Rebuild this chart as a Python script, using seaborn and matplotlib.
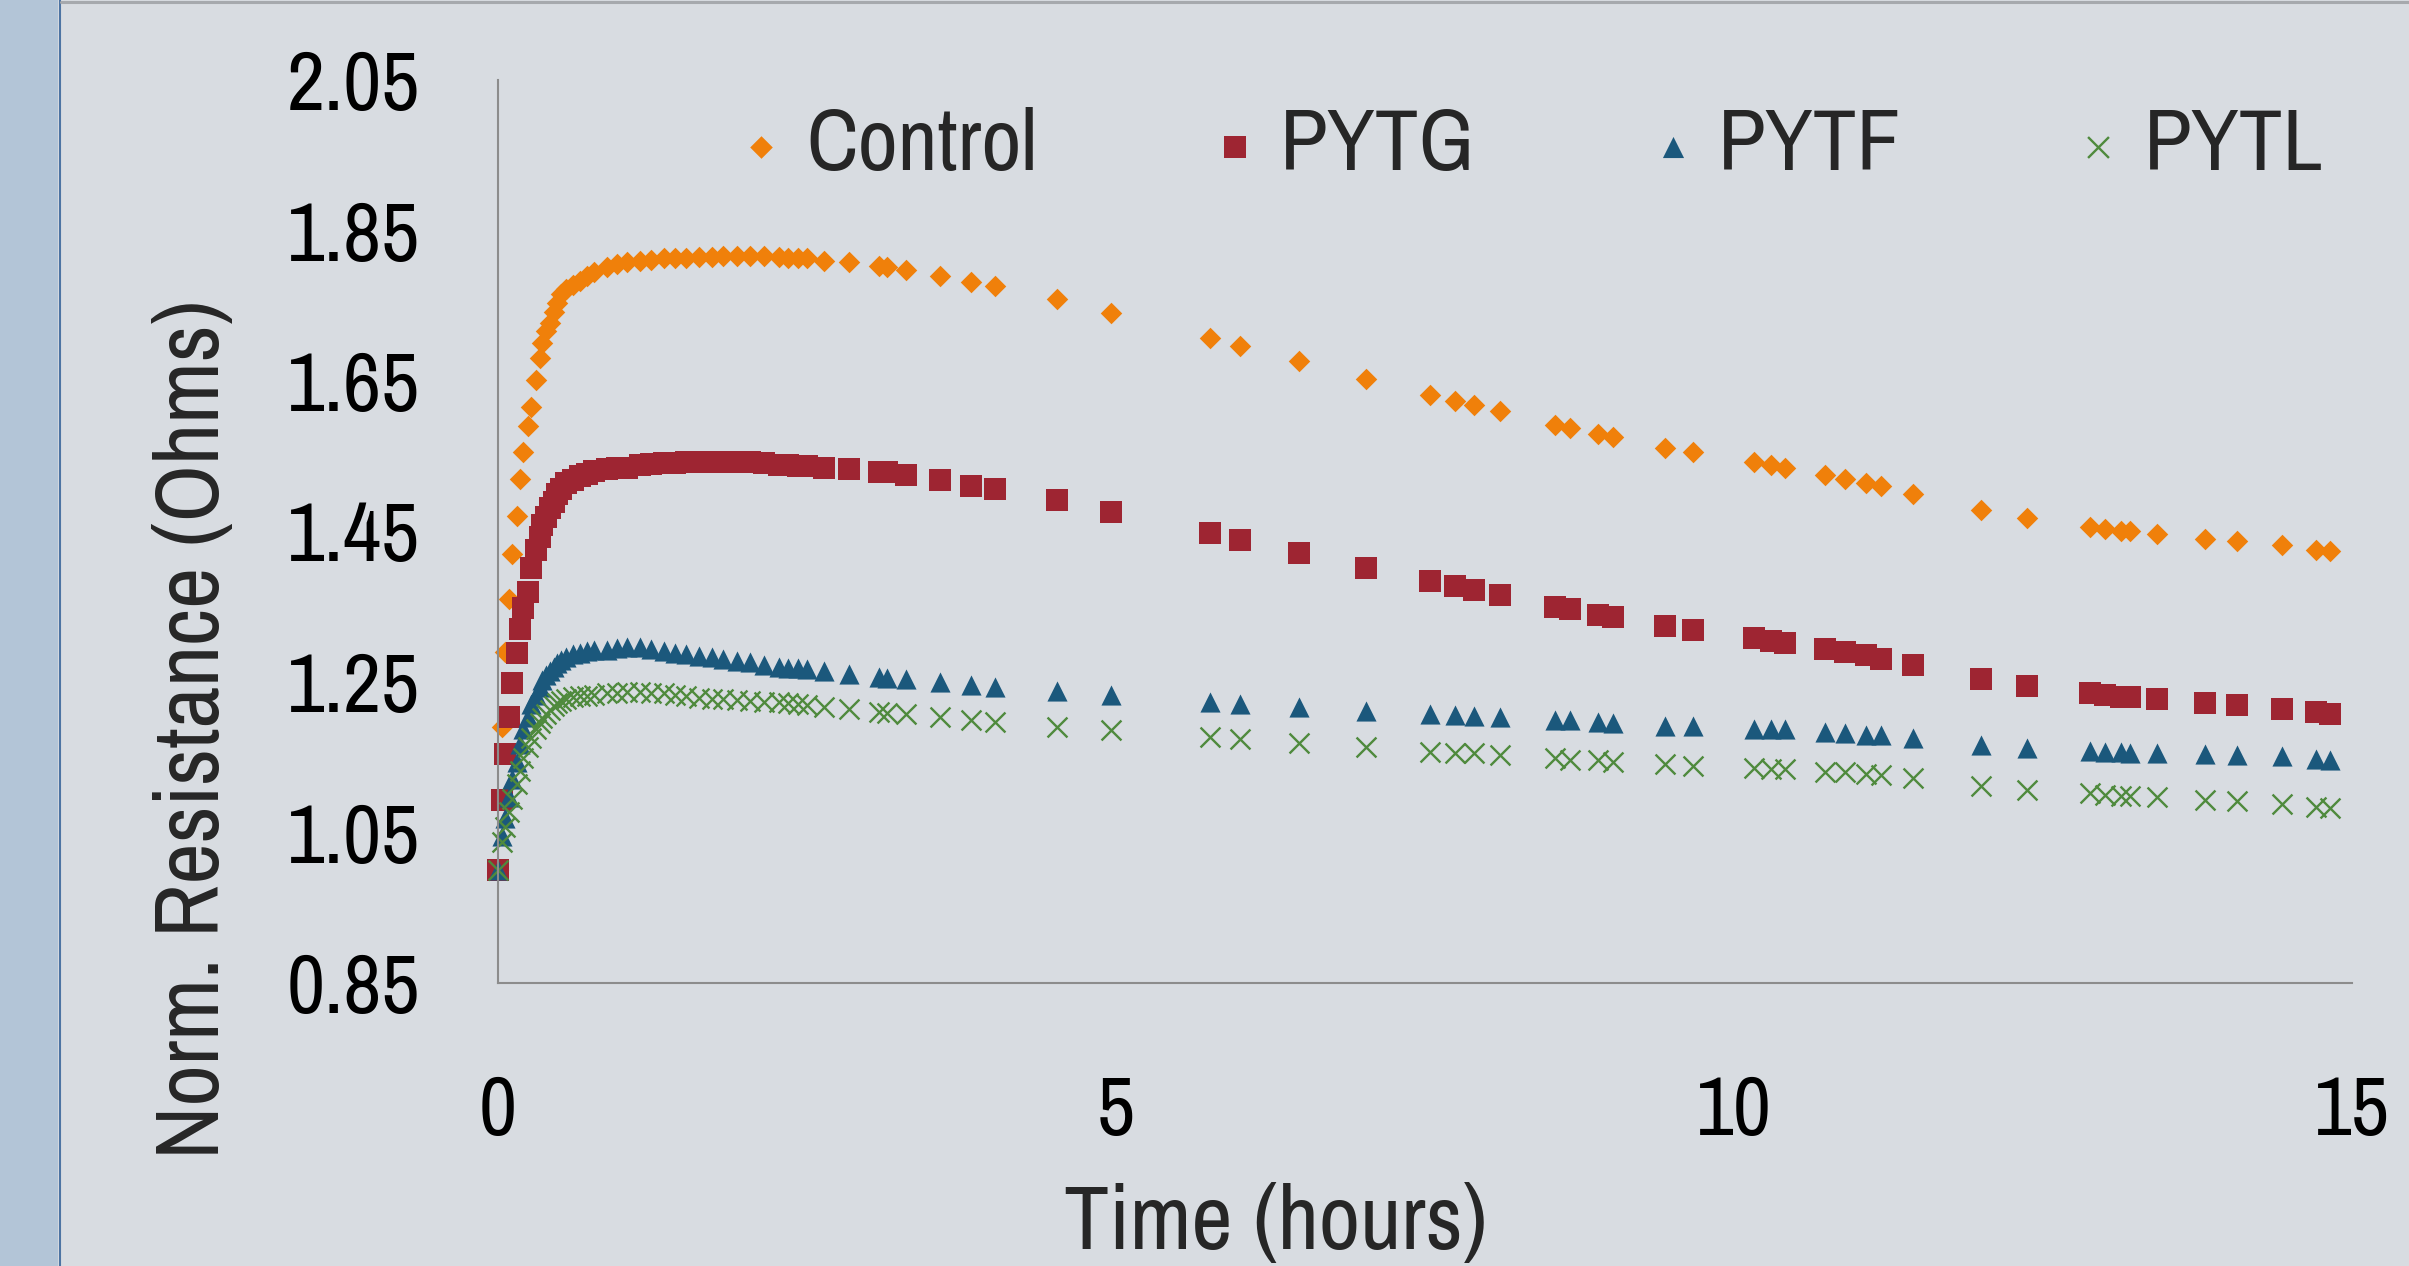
import matplotlib
matplotlib.use('Agg')
import logging
import matplotlib.pyplot as plt
import seaborn as sns
from matplotlib.patches import Rectangle
from matplotlib.lines import Line2D

# time axis shared by all four series (hours)
hours = [0, 0.03, 0.06, 0.09, 0.11, 0.15, 0.18, 0.20, 0.24, 0.27,
         0.31, 0.34, 0.36, 0.39, 0.42, 0.45, 0.48, 0.51, 0.55, 0.61,
         0.66, 0.72, 0.78, 0.88, 0.96, 1.04, 1.15, 1.24, 1.34, 1.43,
         1.52, 1.63, 1.73, 1.82, 1.93, 2.04, 2.15,
         2.27, 2.35, 2.43, 2.50, 2.64, 2.84, 3.08, 3.15, 3.30, 3.58,
         3.83, 4.02, 4.52, 4.96, 5.76, 6.00,
         6.48, 7.02, 7.54, 7.74, 7.90, 8.11, 8.55, 8.67, 8.90, 9.02,
         9.44, 9.67, 10.16, 10.30, 10.41,
         10.74, 10.90, 11.07, 11.19, 11.45, 12.00, 12.37, 12.88, 13.00,
         13.13, 13.20, 13.42, 13.81, 14.07, 14.43, 14.71, 14.82]

control = [1.00, 1.19, 1.29, 1.36, 1.42, 1.47, 1.52, 1.556, 1.59, 1.615,
           1.651, 1.68, 1.70, 1.717, 1.727, 1.742, 1.754, 1.765, 1.772, 1.778,
           1.783, 1.790, 1.795, 1.802, 1.805, 1.808, 1.810, 1.811, 1.813, 1.813,
           1.814, 1.8145, 1.815, 1.8155, 1.816, 1.8165, 1.816,
           1.815, 1.814, 1.8135, 1.813, 1.810, 1.808, 1.803, 1.8015, 1.7975, 1.790,
           1.782, 1.776, 1.759, 1.740, 1.707, 1.696,
           1.676, 1.653, 1.631, 1.624, 1.618, 1.610, 1.592, 1.587, 1.579, 1.575,
           1.561, 1.556, 1.542, 1.538, 1.535,
           1.5255, 1.520, 1.514, 1.510, 1.500, 1.479, 1.468, 1.456, 1.453,
           1.451, 1.450, 1.447, 1.440, 1.437, 1.432, 1.426, 1.424]

pytg = [1.00, 1.093, 1.154, 1.203, 1.249, 1.288, 1.321, 1.348, 1.370, 1.401,
        1.425, 1.443, 1.458, 1.469, 1.481, 1.489, 1.500, 1.507, 1.514, 1.519,
        1.524, 1.527, 1.530, 1.533, 1.534, 1.535, 1.538, 1.540, 1.541, 1.541,
        1.542, 1.542, 1.542, 1.543, 1.543, 1.542, 1.541,
        1.539, 1.538, 1.5375, 1.537, 1.535, 1.533, 1.5295, 1.529, 1.525, 1.518,
        1.511, 1.506, 1.4915, 1.476, 1.448, 1.439,
        1.421, 1.402, 1.384, 1.378, 1.372, 1.365, 1.350, 1.347, 1.339, 1.336,
        1.324, 1.319, 1.308, 1.305, 1.302,
        1.294, 1.290, 1.2855, 1.281, 1.272, 1.254, 1.245, 1.235, 1.233,
        1.230, 1.230, 1.227, 1.222, 1.219, 1.2145, 1.210, 1.2075]

pytf = [1.00, 1.046, 1.069, 1.097, 1.121, 1.144, 1.167, 1.187, 1.204, 1.221,
        1.233, 1.244, 1.253, 1.259, 1.265, 1.270, 1.275, 1.279, 1.283, 1.287,
        1.289, 1.291, 1.292, 1.293, 1.295, 1.296, 1.296, 1.294, 1.291, 1.289,
        1.287, 1.285, 1.283, 1.281, 1.278, 1.276, 1.273,
        1.270, 1.269, 1.268, 1.267, 1.264, 1.261, 1.256, 1.255, 1.254, 1.250,
        1.246, 1.244, 1.238, 1.233, 1.223, 1.221,
        1.217, 1.212, 1.208, 1.206, 1.205, 1.203, 1.1995, 1.199, 1.197, 1.196,
        1.192, 1.192, 1.188, 1.187, 1.187,
        1.184, 1.182, 1.180, 1.179, 1.175, 1.166, 1.162, 1.158, 1.157,
        1.157, 1.156, 1.155, 1.154, 1.153, 1.151, 1.148, 1.147]

pytl = [1.00, 1.037, 1.057, 1.077, 1.095, 1.115, 1.132, 1.149, 1.164, 1.175,
        1.187, 1.1955, 1.202, 1.207, 1.213, 1.2185, 1.2225, 1.225, 1.228, 1.230,
        1.231, 1.232, 1.233, 1.235, 1.236, 1.237, 1.237, 1.236, 1.235, 1.233,
        1.231, 1.229, 1.228, 1.227, 1.226, 1.225, 1.224,
        1.223, 1.222, 1.221, 1.220, 1.217, 1.214, 1.2105, 1.209, 1.207, 1.203,
        1.1995, 1.197, 1.1906, 1.186, 1.177, 1.174,
        1.169, 1.164, 1.157, 1.156, 1.155, 1.153, 1.149, 1.147, 1.146, 1.144,
        1.141, 1.139, 1.136, 1.135, 1.134,
        1.131, 1.130, 1.128, 1.126, 1.122, 1.112, 1.107, 1.102, 1.100,
        1.0985, 1.098, 1.097, 1.093, 1.0915, 1.088, 1.084, 1.083]

series_names = ['Control', 'PYTG', 'PYTF', 'PYTL']
x_ticks = [0, 5, 10, 15]
y_ticks = [0.85, 1.05, 1.25, 1.45, 1.65, 1.85, 2.05]
y_tick_labels = ['0.85', '1.05', '1.25', '1.45', '1.65', '1.85', '2.05']

sns.set_theme(style='white')
# narrow sans, first one that is installed wins
plt.rcParams['font.family'] = ['Liberation Sans Narrow', 'Arial Narrow', 'Archivo Narrow',
                               'Roboto Condensed', 'PT Sans Narrow', 'Fira Sans Condensed',
                               'Roboto', 'DejaVu Sans']
logging.getLogger('matplotlib.font_manager').setLevel(logging.ERROR)

BG = '#d8dce1'
W, H = 2409, 1266
fig = plt.figure(figsize=(W / 100, H / 100), dpi=100, facecolor=BG)

# side strip and top shadow of the slide
fig.patches.append(Rectangle((0, 0), 58 / W, 1, transform=fig.transFigure,
                             facecolor='#b3c5d7', edgecolor='none', zorder=0))
fig.lines.append(Line2D([59.5 / W] * 2, [0, 1], transform=fig.transFigure,
                        color='#4d74a3', lw=1.5))
fig.lines.append(Line2D([61 / W, 1], [1 - 1.5 / H] * 2, transform=fig.transFigure,
                        color='#a6a9ad', lw=2.2))

ax = fig.add_axes([498 / W, 1 - 983 / H, (2352 - 498) / W, (983 - 80) / H])
ax.set_facecolor('none')

styles = [
    (control, 'D', '#f0800a', 120, 0),
    (pytg, 's', '#9e2532', 230, 0),
    (pytf, '^', '#1b587c', 210, 0),
    (pytl, 'x', '#4f8a3d', 205, 1.7),
]
for name, (vals, marker, color, size, lw) in zip(series_names, styles):
    sns.scatterplot(x=hours, y=vals, marker=marker, color=color, s=size,
                    linewidth=lw, label=name, ax=ax, clip_on=False, legend=False)

ax.set_xlim(0, 15)
ax.set_ylim(0.85, 2.05)
ax.set_xticks(x_ticks)
ax.set_xticklabels([str(t) for t in x_ticks])
ax.set_yticks(y_ticks)
ax.set_yticklabels(y_tick_labels)
ax.tick_params(axis='x', length=0, labelsize=60, pad=66, colors='black')
ax.tick_params(axis='y', length=0, labelsize=60, pad=56, colors='black')
ax.set_xlabel('')
ax.set_ylabel('')

sns.despine(ax=ax)
for side in ['left', 'bottom']:
    ax.spines[side].set_color('#8c8c8c')
    ax.spines[side].set_linewidth(1.5)

ax.legend(loc='center left', bbox_to_anchor=(735 / W, 1 - 146 / H),
          bbox_transform=fig.transFigure, ncol=4, frameon=False, fontsize=63,
          handlelength=0.6, handletextpad=0.22, columnspacing=1.95,
          borderpad=0, borderaxespad=0, scatterpoints=1, markerscale=1.05)

fig.text(1276 / W, 1 - 1249 / H, 'Time (hours)', fontsize=65,
         ha='center', va='baseline')
fig.text(219 / W, 1 - 729 / H, 'Norm. Resistance (Ohms)', fontsize=65,
         rotation=90, rotation_mode='anchor', ha='center', va='baseline')

fig.savefig('out.png', dpi=100, facecolor=BG)
